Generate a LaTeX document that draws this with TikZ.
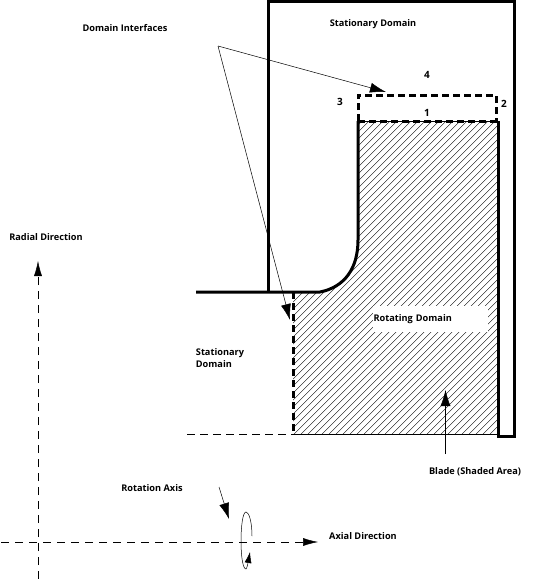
\documentclass[tikz,border=0pt]{standalone}
\usepackage{fontspec}
\setmainfont{Open Sans}
\usepackage{tikz}
\usetikzlibrary{arrows.meta,positioning,calc}

\begin{document}
\begin{tikzpicture}[
    x=1pt, y=-1pt,
    label/.style={font=\fontsize{9.2}{12}\selectfont\bfseries, inner sep=1pt, align=left},
    number/.style={font=\fontsize{10}{10}\selectfont\bfseries, inner sep=1pt},
    wall/.style={line width=3pt, line cap=butt, line join=miter},
    interface/.style={line width=3pt, dash pattern=on 7pt off 4pt},
    thinarrow/.style={-{Latex[length=16pt,width=10pt]}, line width=0.5pt},
    axis/.style={-{Latex[length=15pt,width=8pt]}, line width=0.5pt, dash pattern=on 8pt off 6pt}
]
    \useasboundingbox (0,0) rectangle (550,579);

    % Corners
    \coordinate (bladeTL) at (358,121);
    \coordinate (bladeTR) at (498,121);
    \coordinate (bladeBR) at (498,434);
    \coordinate (bladeBL) at (293,434);
    \coordinate (hubL) at (293,292);
    \coordinate (hubR) at (320,292);

    % Hatching of the blade
    \begin{scope}
        \clip (bladeTL) -- (bladeTR) -- (bladeBR) -- (bladeBL) -- (hubL) -- (hubR)
            .. controls (345,287) and (358,268) .. (358,240) -- cycle;
        \foreach \i in {0,7,...,476} {
            \draw[line width=0.35pt] (36+\i,440) -- ++(340,-340);
        }
    \end{scope}

    % Walls
    \draw[wall] (268,292) -- (268,1.5) -- (514,1.5) -- (514,436) -- (498,436) -- (bladeTR);
    \draw[wall] (196,292) -- (hubR) .. controls (345,287) and (358,268) .. (358,240) -- (bladeTL);
    \draw[line width=0.7pt] (bladeBL) -- (bladeBR);
    \draw[line width=0.7pt] (bladeTL) -- (bladeTR);

    % Interfaces
    \draw[interface] (hubL) -- (bladeBL);
    \draw[interface] (bladeTL) -- (358,95) -- (496,95) -- (496,121);
    \draw[interface] (bladeTL) -- (bladeTR);
    \draw[line width=0.7pt, dash pattern=on 8pt off 5pt] (187,434) -- (bladeBL);

    % Labels
    \node[label] (interfaces) at (125,28) {Domain Interfaces};
    \node[label] (statTop) at (373,24) {Stationary Domain};
    \node[label] (statLeft) at (220,358) {Stationary\\Domain};
    \node[label, fill=white, text width=113pt, minimum height=26pt] (rotating) at (430,319) {Rotating Domain};
    \node[label] (radial) at (46,237) {Radial Direction};
    \node[label] (rotaxis) at (152,488) {Rotation Axis};
    \node[label] (axial) at (363,536) {Axial Direction};
    \node[label] (blade) at (475,472) {Blade (Shaded Area)};
    \node[number] (n1) at (427,113) {1};
    \node[number] (n2) at (504,104) {2};
    \node[number] (n3) at (340,102) {3};
    \node[number] (n4) at (427,75) {4};

    % Arrows
    \coordinate (apex) at (218,46);
    \coordinate (tipTop) at (386,92);
    \coordinate (tipLow) at (290,320);
    \draw[thinarrow] (apex) -- (tipTop);
    \draw[thinarrow] (apex) -- (tipLow);
    \coordinate (bladeTail) at (445.5,454);
    \coordinate (bladeTip) at (445.5,390);
    \draw[thinarrow] (bladeTail) -- (bladeTip);
    \coordinate (rotTail) at (219,487);
    \coordinate (rotTip) at (229,519);
    \draw[thinarrow] (rotTail) -- (rotTip);

    % Axes
    \coordinate (radialS) at (38,579);
    \coordinate (radialE) at (38,261);
    \coordinate (axialS) at (1,542);
    \coordinate (axialE) at (318,542);
    \draw[axis] (radialS) -- (radialE);
    \draw[axis] (axialS) -- (axialE);

    % Rotation mark
    \coordinate (ringR) at (252,536);
    \coordinate (ringEnd) at (250,552);
    \draw[line width=0.5pt] (ringR) .. controls (252,522) and (249,512) .. (246,512)
        .. controls (243,512) and (241,525) .. (241,541)
        .. controls (241,557) and (243,569) .. (246,569);
    \draw[-{Latex[length=11pt,width=7pt]}, line width=0.5pt] (246,569) .. controls (247,568) and (248,563) .. (ringEnd);
\end{tikzpicture}
\end{document}
